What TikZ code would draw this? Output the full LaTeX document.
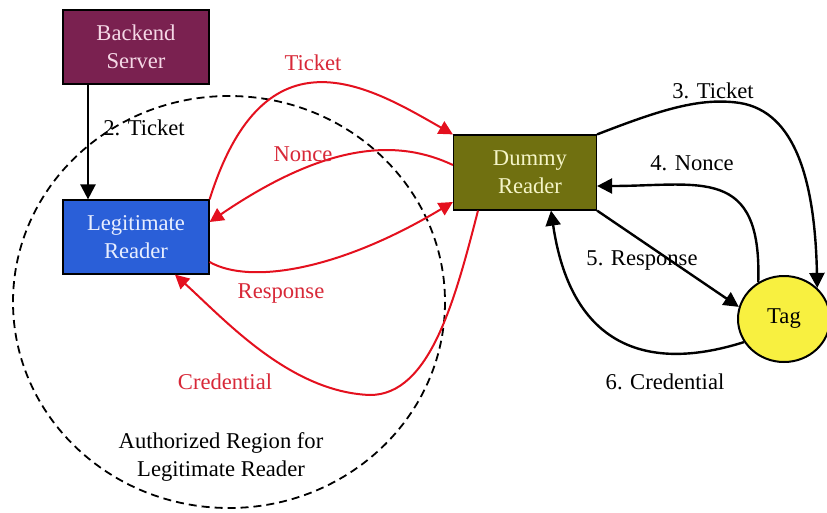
\documentclass[tikz,border=0pt]{standalone}
\usepackage{fontspec}
\setmainfont{Liberation Serif}
\usetikzlibrary{arrows.meta,shapes.geometric}
\definecolor{backendfill}{HTML}{7A2150}
\definecolor{legitfill}{HTML}{2A5FD8}
\definecolor{dummyfill}{HTML}{707010}
\definecolor{tagfill}{HTML}{F8F040}
\definecolor{redline}{HTML}{E4101E}
\definecolor{redtext}{HTML}{D82838}
\definecolor{backendtext}{HTML}{F5D8E6}
\definecolor{legittext}{HTML}{E8EEFF}
\definecolor{dummytext}{HTML}{F5F5C8}
\begin{document}
\begin{tikzpicture}[x=1pt,y=-1pt,
  font=\fontsize{22.6}{28}\selectfont,
  box/.style={draw=black,line width=1.2pt,minimum width=146pt,minimum height=74pt,inner sep=0pt,align=center},
  blk/.style={draw=black,line width=2.4pt,-{Triangle[length=15pt,width=15pt]}},
  redarrow/.style={draw=redline,line width=2pt,-{Triangle[length=14pt,width=14pt]}},
  rlabel/.style={text=redtext,inner sep=0pt},
  blabel/.style={text=black,inner sep=0pt}]
\useasboundingbox (0,0) rectangle (827,512);
\fill[white] (0,0) rectangle (827,512);

% authorized region
\draw[dashed,line width=1.8pt,dash pattern=on 8pt off 5pt] (229,302) ellipse [x radius=216, y radius=206];

% nodes
\node[box,fill=backendfill,text=backendtext] (backend) at (136,47) {Backend\\Server};
\node[box,fill=legitfill,text=legittext] (legit) at (136,237) {Legitimate\\Reader};
\node[box,fill=dummyfill,text=dummytext,minimum width=143pt,minimum height=75pt] (dummy) at (525,172.5) {\hspace*{10pt}Dummy\\\hspace*{10pt}Reader};
\node[ellipse,draw=black,line width=2pt,fill=tagfill,minimum width=92pt,minimum height=86pt,inner sep=0pt] (tag) at (784,319) {\raisebox{4pt}{Tag}};

% black connectors
\draw[blk] ([xshift=-48pt]backend.south) -- ([xshift=-48pt]legit.north);
\draw[blk] (dummy.north east) .. controls (660,110) and (700,97) .. (740,103)
  .. controls (795,112) and (815,180) .. (tag.north east);
\draw[blk] (tag.125) .. controls (762,165) and (700,186) .. ([yshift=-13.5pt]dummy.east);
\draw[blk] (dummy.south east) -- (tag.165);
\draw[blk] (tag.210) .. controls (640,375) and (570,340) .. ([xshift=26pt]dummy.south);

% red connectors
\draw[redarrow] (legit.north east) .. controls (265,23) and (370,87) .. (dummy.north west);
\draw[redarrow] ([yshift=7.5pt]dummy.west) .. controls (400,140) and (330,140) .. ([yshift=15pt]legit.east);
\draw[redarrow] ([yshift=-25pt]legit.east) .. controls (250,285) and (340,270) .. ([yshift=-29.5pt]dummy.west);
\draw[redarrow] ([xshift=-47pt]dummy.south) .. controls (455,300) and (430,395) .. (370,395)
  .. controls (290,392) and (225,320) .. ([xshift=39pt]legit.south);

% labels
\node[blabel] (l2) at (144,128) {2. Ticket};
\node[rlabel] (lt) at (313,63) {Ticket};
\node[rlabel] (ln) at (303,154) {Nonce};
\node[rlabel] (lr) at (281,293) {Response};
\node[rlabel] (lc) at (225,382) {Credential};
\node[blabel] (l3) at (713,91) {3. Ticket};
\node[blabel] (l4) at (692,163) {4. Nonce};
\node[blabel] (l5) at (642,261) {5. Response};
\node[blabel] (l6) at (665,382) {6. Credential};
\node[blabel,align=center] (region) at (221,457) {Authorized Region for\\Legitimate Reader};
\end{tikzpicture}
\end{document}
